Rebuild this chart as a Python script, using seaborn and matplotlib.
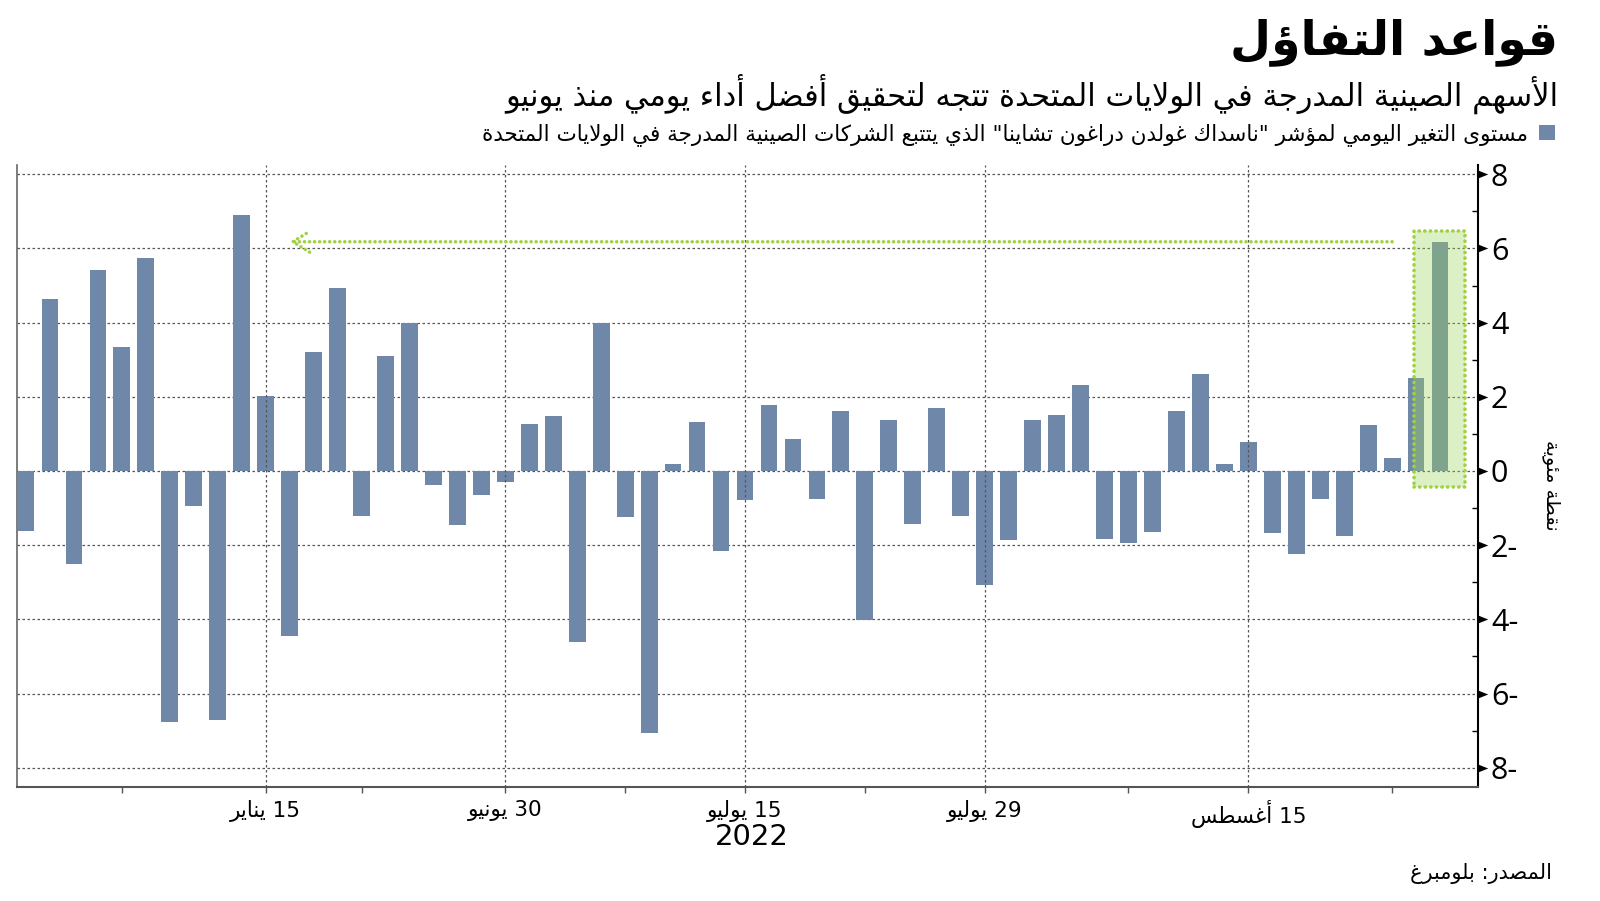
import re
import pandas as pd
import numpy as np
import matplotlib
matplotlib.use('Agg')
import matplotlib.pyplot as plt
from matplotlib.patches import Rectangle, Patch
from matplotlib.path import Path
import seaborn as sns

# ---- data ----
days = pd.bdate_range('2022-06-01', '2022-08-25', freq='C',
                      holidays=['2022-06-20', '2022-07-04'])
dates = [d.strftime('%Y-%m-%d') for d in days]
change = [-1.63, 4.63, -2.51, 5.41, 3.34, 5.73, -6.77, -0.94, -6.72, 6.89,
          2.01, -4.44, 3.20, 4.92, -1.22, 3.09, 4.00, -0.37, -1.46, -0.65,
          -0.30, 1.27, 1.49, -4.62, 3.99, -1.25, -7.07, 0.19, 1.31, -2.17,
          -0.78, 1.79, 0.85, -0.76, 1.62, -4.02, 1.38, -1.42, 1.69, -1.22,
          -3.08, -1.85, 1.38, 1.52, 2.32, -1.83, -1.93, -1.64, 1.62, 2.61,
          0.19, 0.78, -1.67, -2.23, -0.76, -1.74, 1.23, 0.35, 2.50, 6.18]
tick_dates = ['2022-06-15', '2022-06-30', '2022-07-15', '2022-07-29', '2022-08-15']
tick_labels = ['15 يناير', '30 يونيو', '15 يوليو', '29 يوليو', '15 أغسطس']
minor_dates = ['2022-06-07', '2022-06-22', '2022-07-08', '2022-07-22', '2022-08-08', '2022-08-23']
yticks = [-8, -6, -4, -2, 0, 2, 4, 6, 8]
ytick_labels = [f'{abs(t)}-' if t < 0 else str(t) for t in yticks]

title = 'قواعد التفاؤل'
subtitle = 'الأسهم الصينية المدرجة في الولايات المتحدة تتجه لتحقيق أفضل أداء يومي منذ يونيو'
legend_label = 'مستوى التغير اليومي لمؤشر "ناسداك غولدن دراغون تشاينا" الذي يتتبع الشركات الصينية المدرجة في الولايات المتحدة'
ylabel = 'نقطة مئوية'
source = 'المصدر: بلومبرغ'
year_label = '2022'

bar_color = '#6f88aa'
green = '#9fd143'

# ---- arabic shaping (matplotlib draws glyphs left to right, unjoined) ----
_letters = [chr(c) for c in list(range(0x621, 0x63B)) + list(range(0x641, 0x64B))]
_nforms = [1, 2, 2, 2, 2, 4, 2, 4, 2, 4, 4, 4, 4, 4, 2, 2, 2, 2, 4, 4,
           4, 4, 4, 4, 4, 4, 4, 4, 4, 4, 4, 4, 4, 2, 2, 4]
FORMS = {}
code = 0xFE80
for ch, n in zip(_letters, _nforms):
    FORMS[ch] = list(range(code, code + n))
    code += n
LAMALEF = {'\u0622': 0xFEF5, '\u0623': 0xFEF7, '\u0625': 0xFEF9, '\u0627': 0xFEFB}


def ar(s):
    out = []
    i = 0
    while i < len(s):
        c = s[i]
        if c not in FORMS:
            out.append(c)
            i += 1
            continue
        prev = s[i - 1] if i > 0 else ''
        jp = prev in FORMS and len(FORMS[prev]) == 4 and len(FORMS[c]) > 1
        if c == '\u0644' and i + 1 < len(s) and s[i + 1] in LAMALEF:
            out.append(chr(LAMALEF[s[i + 1]] + (1 if jp else 0)))
            i += 2
            continue
        nxt = s[i + 1] if i + 1 < len(s) else ''
        jn = len(FORMS[c]) == 4 and nxt in FORMS and len(FORMS[nxt]) > 1
        f = FORMS[c]
        if jp and jn:
            g = f[3]
        elif jp:
            g = f[1]
        elif jn:
            g = f[2]
        else:
            g = f[0]
        out.append(chr(g))
        i += 1
    vis = ''.join(out)[::-1]
    return re.sub(r'[0-9]+', lambda m: m.group(0)[::-1], vis)


plt.rcParams['font.family'] = ['DejaVu Sans']

fig = plt.figure(figsize=(16, 9.01), dpi=100)
ax = fig.add_axes([0.0104, 0.1265, 0.9136, 0.6904])

sns.barplot(x=dates, y=change, color=bar_color, saturation=1, width=0.7,
            linewidth=0, errorbar=None, ax=ax, zorder=2)

ax.set_xlim(-0.39, 60.6)
ax.set_ylim(-8.52, 8.25)

# x axis
major_pos = [dates.index(d) for d in tick_dates]
minor_pos = [dates.index(d) for d in minor_dates]
ax.set_xticks(major_pos)
ax.set_xticklabels([ar(t) for t in tick_labels], fontsize=15.5)
ax.set_xticks(minor_pos, minor=True)
ax.tick_params(axis='x', which='both', direction='out', length=4, width=1,
               color='#555555', pad=5)
for p in major_pos:
    ax.axvline(p, color='#555555', lw=0.9, ls=(0, (2, 2)), zorder=3)

# y axis on the right
ax.yaxis.tick_right()
ax.set_yticks(yticks)
ax.set_yticklabels(ytick_labels, fontsize=22, family=['Open Sans', 'DejaVu Sans'])
ax.set_yticks([-7, -5, -3, -1, 1, 3, 5, 7], minor=True)
ax.tick_params(axis='y', which='major', length=14, width=0, pad=-5, color='black')
ax.tick_params(axis='y', which='minor', direction='in', length=4, width=1, color='black')
tri = Path([(0, -0.4), (1, 0), (0, 0.4), (0, -0.4)])
for t in ax.yaxis.get_major_ticks():
    t.tick2line.set_marker(tri)
    t.tick2line.set_markerfacecolor('black')
    t.tick2line.set_markeredgewidth(0)

ax.yaxis.grid(True, color='#555555', lw=0.9, ls=(0, (2, 2)))
ax.xaxis.grid(False)
ax.set_axisbelow(True)
ax.set_xlabel('')
ax.set_ylabel('')

ax.spines['top'].set_visible(False)
ax.spines['left'].set_color('#666666')
ax.spines['left'].set_linewidth(1.2)
ax.spines['bottom'].set_color('#555555')
ax.spines['bottom'].set_linewidth(1.5)
ax.spines['right'].set_color('black')
ax.spines['right'].set_linewidth(1.5)

# highlight of the latest day
last = len(change) - 1
ax.add_patch(Rectangle((last - 1.07, -0.42), 2.13, change[-1] + 0.70,
                       facecolor=(157 / 255, 214 / 255, 89 / 255), alpha=0.35,
                       edgecolor='none', zorder=4))
ax.add_patch(Rectangle((last - 1.07, -0.42), 2.13, change[-1] + 0.70,
                       fill=False, edgecolor=green, lw=2.6, ls=(0, (0.05, 1.5)),
                       capstyle='round', zorder=5))

# dotted arrow back to the earlier high
ax.annotate('', xy=(11, change[-1]), xytext=(57, change[-1]),
            arrowprops=dict(arrowstyle='->,head_length=1.2,head_width=0.75',
                            color=green, lw=2.5, ls=(0, (0.05, 1.4)),
                            capstyle='round', shrinkA=0, shrinkB=0,
                            mutation_scale=10),
            zorder=5)

# texts
fig.text(1558 / 1600, 1 - 42 / 901, ar(title), ha='right', va='center',
         fontsize=34, fontweight='bold')
fig.text(1558 / 1600, 1 - 94 / 901, ar(subtitle), ha='right', va='center',
         fontsize=22)
ax.legend(handles=[Patch(facecolor=bar_color, edgecolor='none')],
          labels=[ar(legend_label)], loc='upper right',
          bbox_to_anchor=(1555 / 1600, 1 - 123 / 901), bbox_transform=fig.transFigure,
          markerfirst=False, frameon=False, fontsize=15.5, handlelength=0.75,
          handleheight=0.75, handletextpad=0.5, borderaxespad=0, borderpad=0)
fig.text(1551 / 1600, 1 - 485 / 901, ar(ylabel), rotation=270, ha='center',
         va='center', fontsize=14)
fig.text(752 / 1600, 1 - 837 / 901, year_label, ha='center', va='center',
         fontsize=21)
fig.text(1552 / 1600, 1 - 874 / 901, ar(source), ha='right', va='center',
         fontsize=15)

fig.savefig('out.png', dpi=100)
